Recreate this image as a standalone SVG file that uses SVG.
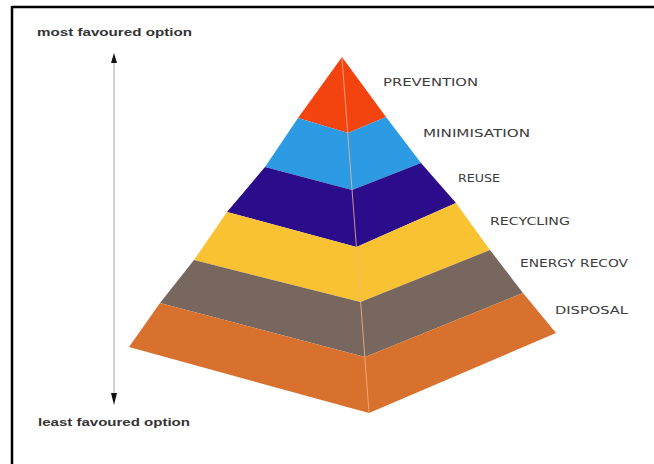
<svg xmlns="http://www.w3.org/2000/svg" width="654" height="464" viewBox="0 0 654 464">
<style>
.lbl{font-family:"DejaVu Sans","Liberation Sans",sans-serif;font-size:11px;fill:#3c3c3c;}
.side{font-family:"Liberation Sans","DejaVu Sans",sans-serif;font-size:11px;font-weight:bold;fill:#333;}
.ridge{stroke:#f6b48a;stroke-width:1;fill:none;opacity:0.8;}
.head{fill:#111;}
</style>
<rect x="0" y="0" width="654" height="464" fill="#fff"/>
<g id="frame">
<line x1="12" y1="7" x2="654" y2="7" stroke="#000" stroke-width="2.5"/>
<line x1="12" y1="6" x2="12" y2="464" stroke="#000" stroke-width="2.5"/>
</g>
<g id="pyramid">
<g id="prevention"><polygon points="342,57 386,117 348,133 298,118" fill="#f3430f"/></g>
<g id="minimisation"><polygon points="298,118 348,133 386,117 421,163 352,190 265,167" fill="#2d9ae4"/></g>
<g id="reuse"><polygon points="265,167 352,190 421,163 456,203 356.5,247 227,212" fill="#2b0c8a"/></g>
<g id="recycling"><polygon points="227,212 356.5,247 456,203 490,250 360.5,302 194,260" fill="#f9c232"/></g>
<g id="energy"><polygon points="194,260 360.5,302 490,250 523,293 365,357 160,303" fill="#77675f"/></g>
<g id="disposal"><polygon points="160,303 365,357 523,293 556,333 369,413 129,347" fill="#d8712e"/></g>
<line class="ridge" x1="342" y1="58" x2="369" y2="412"/>
</g>
<g id="connectors">
<line x1="114" y1="62" x2="114" y2="394" stroke="#b8b8b8" stroke-width="1.2"/>
<path class="head" d="M111,63 L117,63 L114,53 Z"/>
<path class="head" d="M111,393 L117,393 L114,405 Z"/>
</g>
<g id="labels">
<text class="lbl" x="383" y="86" textLength="95" lengthAdjust="spacingAndGlyphs">PREVENTION</text>
<text class="lbl" x="423" y="137" textLength="107" lengthAdjust="spacingAndGlyphs">MINIMISATION</text>
<text class="lbl" x="458" y="182" textLength="42" lengthAdjust="spacingAndGlyphs">REUSE</text>
<text class="lbl" x="490" y="225" textLength="80" lengthAdjust="spacingAndGlyphs">RECYCLING</text>
<text class="lbl" x="520" y="267" font-size="10" textLength="108" lengthAdjust="spacingAndGlyphs">ENERGY RECOV</text>
<text class="lbl" x="555" y="314" textLength="73" lengthAdjust="spacingAndGlyphs">DISPOSAL</text>
<text class="side" x="37" y="36" textLength="155" lengthAdjust="spacingAndGlyphs">most favoured option</text>
<text class="side" x="38" y="426" textLength="152" lengthAdjust="spacingAndGlyphs">least favoured option</text>
</g>
</svg>
